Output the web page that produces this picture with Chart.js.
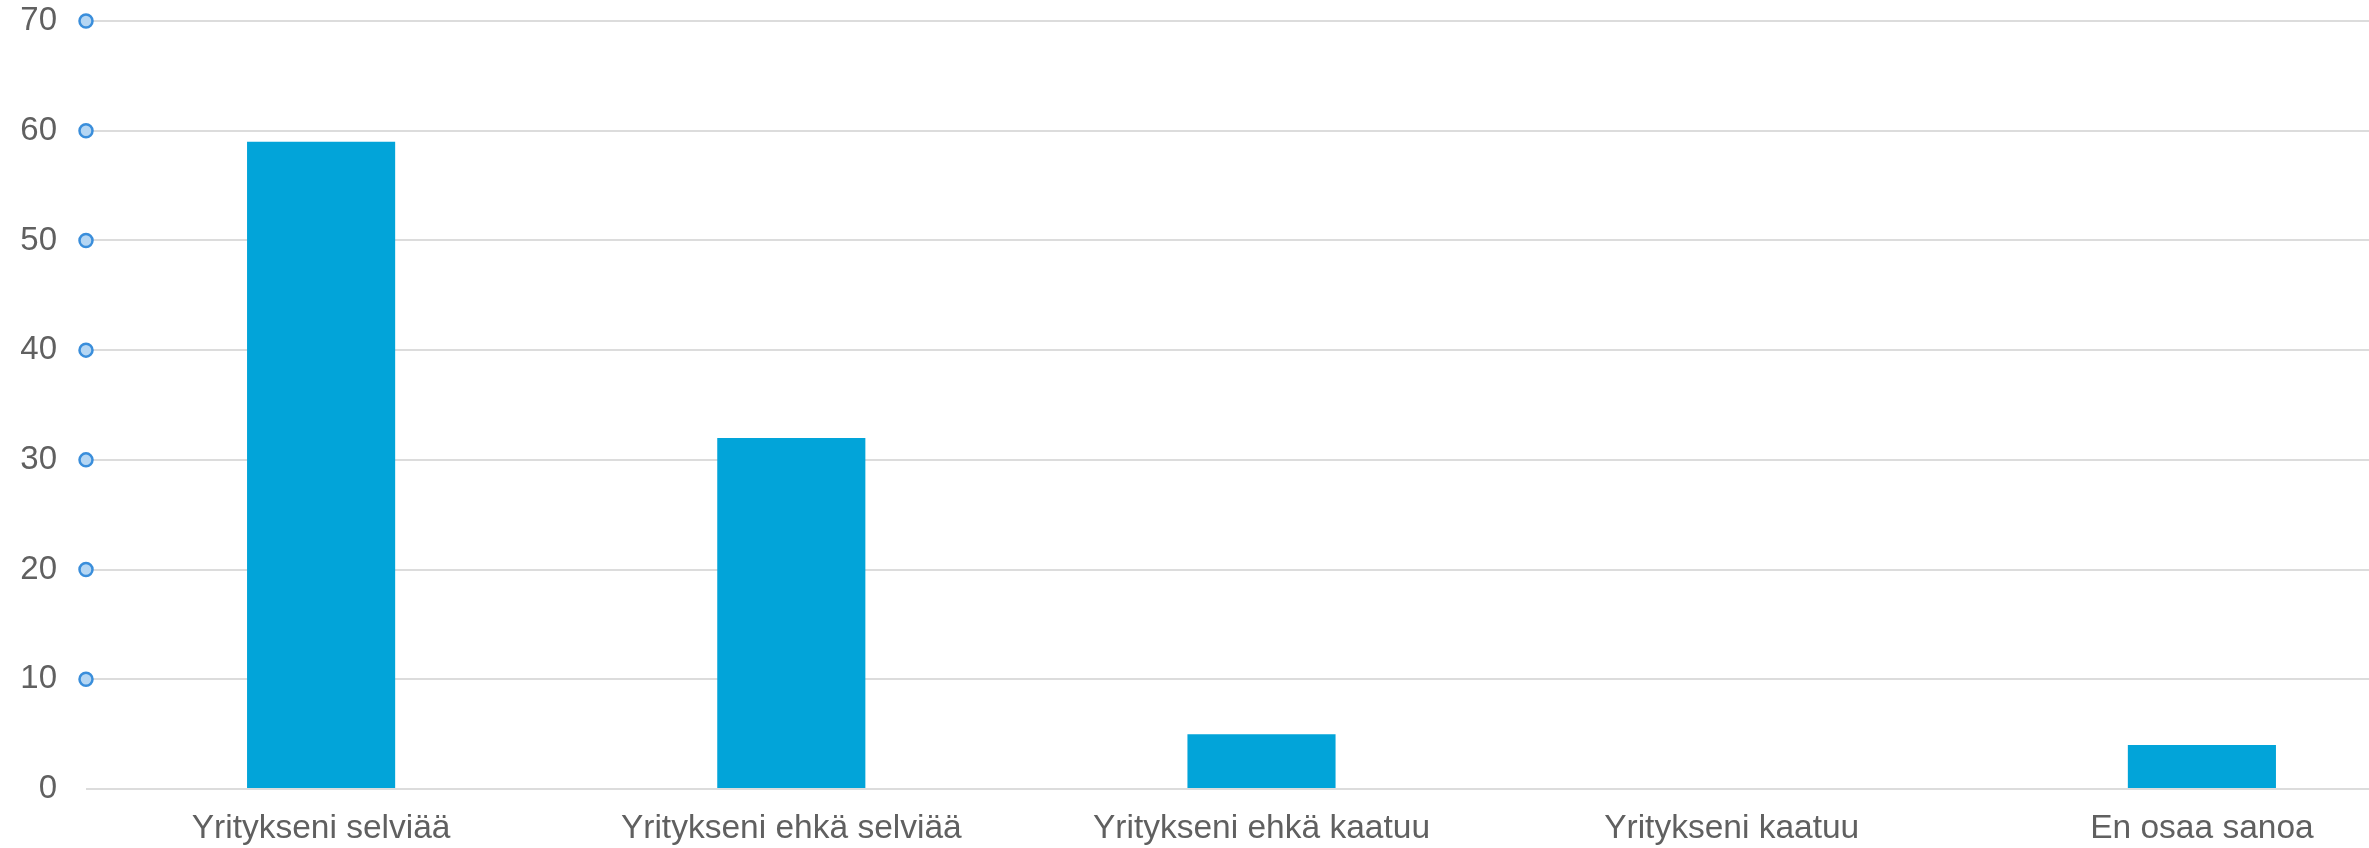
<!DOCTYPE html>
<html>
<head>
<meta charset="utf-8">
<script src="https://cdn.jsdelivr.net/npm/chart.js@4/dist/chart.umd.min.js"></script>
<style>
    html, body { margin: 0; padding: 0; background: #fff; overflow: hidden; }
    #wrap { position: relative; width: 2437px; height: 848px; }
</style>
</head>
<body>
<div id="wrap"><canvas id="chart"></canvas></div>
<script>
const categories = ['Yritykseni selviää', 'Yritykseni ehkä selviää', 'Yritykseni ehkä kaatuu', 'Yritykseni kaatuu', 'En osaa sanoa'];
const values = [59, 32, 5, 0, 4];
const yTicks = [0, 10, 20, 30, 40, 50, 60, 70];

Chart.defaults.font.family = '"Liberation Sans", Arial, sans-serif';
Chart.defaults.color = '#606060';

// small round markers on the y axis at every tick above zero
const tickDots = {
    id: 'tickDots',
    afterDraw(chart) {
        const { ctx, chartArea, scales } = chart;
        ctx.save();
        yTicks.filter(v => v > 0).forEach(v => {
            const y = scales.y.getPixelForValue(v);
            ctx.beginPath();
            ctx.arc(chartArea.left, y, 6.5, 0, Math.PI * 2);
            ctx.fillStyle = '#b5d6f3';
            ctx.fill();
            ctx.lineWidth = 2.5;
            ctx.strokeStyle = '#3a8edb';
            ctx.stroke();
        });
        ctx.restore();
    },
};

new Chart(document.getElementById('chart'), {
    type: 'bar',
    data: {
        labels: categories,
        datasets: [{
            data: values,
            backgroundColor: '#02a4d9',
            borderWidth: 0,
            barPercentage: 0.315,
            categoryPercentage: 1,
        }],
    },
    options: {
        responsive: true,
        maintainAspectRatio: false,
        animation: false,
        layout: { padding: 0 },
        plugins: { legend: { display: false }, tooltip: { enabled: false } },
        scales: {
            x: {
                grid: { display: false },
                border: { display: false },
                ticks: { font: { size: 33.5 }, padding: 12, maxRotation: 0 },
                afterFit: axis => { axis.height = 59; axis.paddingLeft = 0; axis.paddingRight = 0; },
            },
            y: {
                min: 0,
                max: 70,
                afterBuildTicks: axis => { axis.ticks = yTicks.map(v => ({ value: v })); },
                grid: { color: '#dcdcdc', lineWidth: 2, drawTicks: false },
                border: { display: false },
                ticks: { font: { size: 33 }, padding: 29 },
                afterFit: axis => { axis.width = 86; axis.paddingTop = 21; axis.paddingBottom = 0; },
            },
        },
    },
    plugins: [tickDots],
});
</script>
</body>
</html>
